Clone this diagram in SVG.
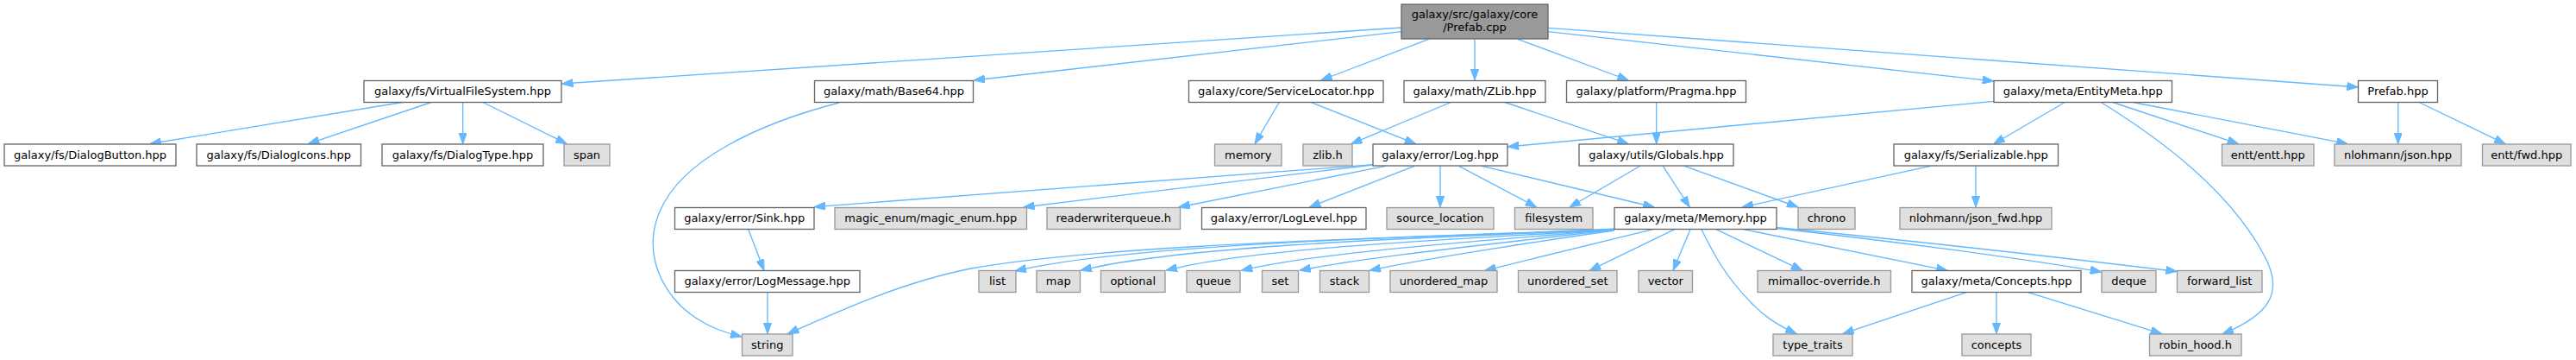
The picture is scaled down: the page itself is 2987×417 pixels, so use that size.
<svg xmlns="http://www.w3.org/2000/svg" width="2987" height="417" viewBox="0 0 2987 417">
<style>
.n rect{fill:#ffffff;stroke:#666666;stroke-width:1.33}
.g rect{fill:#e0e0e0;stroke:#999999;stroke-width:1.33}
.top rect{fill:#999999;stroke:#666666;stroke-width:1.33}
text{font-family:"DejaVu Sans","Liberation Sans",sans-serif;font-size:13px;fill:#000000;text-anchor:middle}
#edges path{fill:none;stroke:#63b8ff;stroke-width:1.33;marker-end:url(#ah)}
</style>
<defs>
<marker id="ah" viewBox="0 0 13 9.4" refX="13" refY="4.7" markerWidth="13" markerHeight="9.4" markerUnits="userSpaceOnUse" orient="auto">
<path d="M0,0 L13,4.7 L0,9.4 z" fill="#63b8ff" stroke="#63b8ff" stroke-width="1"/>
</marker>
</defs>
<rect x="0" y="0" width="2987" height="417" fill="#ffffff"/>
<g id="edges">
<path d="M1625,32 L651.5,97"/>
<path d="M1625,36.7 L1129,93"/>
<path d="M1656.7,45.3 L1531.7,93"/>
<path d="M1710,45.3 L1710,93"/>
<path d="M1760,45.3 L1888.3,93"/>
<path d="M1795,36.7 L2311.7,94"/>
<path d="M1795,32.3 L2734.3,101"/>
<path d="M466.7,118.5 L174,166.5"/>
<path d="M500,118.5 L357.3,166.7"/>
<path d="M536.7,118.5 L536.7,166.7"/>
<path d="M560,118.5 L657.3,166.7"/>
<path d="M973,119 C880,143 790,185 765,245 C748,285 760,325 790,355 C815,378 840,385 860,390"/>
<path d="M1483.3,118.5 L1455,166.7"/>
<path d="M1520,118.5 L1641.7,166.7"/>
<path d="M1682.3,118.5 L1566.7,166.7"/>
<path d="M1745,118.5 L1888.3,166.7"/>
<path d="M1920.7,118.5 L1920.7,166.7"/>
<path d="M2312,117.3 L1748.3,170"/>
<path d="M2394.3,118.5 L2311.7,166.7"/>
<path d="M2450,118.5 L2595.7,166.7"/>
<path d="M2473.3,118.5 L2722.3,166.7"/>
<path d="M2437,119 C2520,170 2590,230 2625,295 C2650,340 2630,365 2577,387"/>
<path d="M2780.7,118.5 L2780.7,166.7"/>
<path d="M2805,118.5 L2905,166.7"/>
<path d="M1591.7,190.7 L944,239.7"/>
<path d="M1591.7,191 L1186.7,240"/>
<path d="M1606.7,192.3 L1366.7,240"/>
<path d="M1640,192.3 L1518.3,240"/>
<path d="M1670,192.3 L1670,240"/>
<path d="M1691.7,192.3 L1781.7,240"/>
<path d="M1718.3,192.3 L1918.3,240"/>
<path d="M1901.7,192.3 L1820,240"/>
<path d="M1928.3,192.3 L1959.3,240"/>
<path d="M1953.3,192.3 L2085,240"/>
<path d="M2238.3,192.3 L2020,240"/>
<path d="M2291,192.3 L2291,240"/>
<path d="M867.7,265.5 L886,313.3"/>
<path d="M890,338.7 L890,386.7"/>
<path d="M1872,265 C1700,274 1300,280 1126,311 C1050,326 980,357 913.3,386.7"/>
<path d="M1872,266 C1700,273 1320,280 1177,314"/>
<path d="M1872,266 C1700,274 1380,282 1253,313.3"/>
<path d="M1872,266 C1720,276 1460,285 1352,313.3"/>
<path d="M1872,266 C1740,278 1540,290 1439.3,313.3"/>
<path d="M1872,266 C1760,280 1600,295 1506.7,313.3"/>
<path d="M1872,267 C1800,277 1650,300 1588,313.3"/>
<path d="M1916.7,265.7 L1721.7,313.3"/>
<path d="M1941.7,265.7 L1843.3,313.3"/>
<path d="M1960,265.7 L1940,313.3"/>
<path d="M1973,266 C1985,290 2000,320 2030,350 C2045,366 2060,376 2083.3,386.7"/>
<path d="M1990,265.7 L2090,313.3"/>
<path d="M2021.7,265.7 L2258.3,313.3"/>
<path d="M2060,264.5 C2200,280 2350,300 2436.7,315"/>
<path d="M2060,263.5 C2250,282 2420,302 2524.3,314.5"/>
<path d="M2280,338.7 L2136.7,386.7"/>
<path d="M2315,338.7 L2315,386.7"/>
<path d="M2351.7,338.7 L2506.7,386.7"/>
</g>
<g id="node_prefab_cpp" class="top"><rect x="1625" y="5" width="170" height="40"/><text x="1710" y="21">galaxy/src/galaxy/core</text><text x="1710" y="36">/Prefab.cpp</text></g>
<g id="node_vfs" class="n"><rect x="422" y="93.5" width="229" height="25"/><text x="536.5" y="110">galaxy/fs/VirtualFileSystem.hpp</text></g>
<g id="node_base64" class="n"><rect x="944.5" y="93.5" width="184" height="25"/><text x="1036.5" y="110">galaxy/math/Base64.hpp</text></g>
<g id="node_servloc" class="n"><rect x="1378.5" y="93.5" width="225.5" height="25"/><text x="1491.25" y="110">galaxy/core/ServiceLocator.hpp</text></g>
<g id="node_zlibhpp" class="n"><rect x="1628" y="93.5" width="164" height="25"/><text x="1710" y="110">galaxy/math/ZLib.hpp</text></g>
<g id="node_pragma" class="n"><rect x="1816.5" y="93.5" width="208" height="25"/><text x="1920.5" y="110">galaxy/platform/Pragma.hpp</text></g>
<g id="node_entitymeta" class="n"><rect x="2312" y="93.5" width="206.5" height="25"/><text x="2415.25" y="110">galaxy/meta/EntityMeta.hpp</text></g>
<g id="node_prefab_hpp" class="n"><rect x="2734.5" y="93.5" width="92" height="25"/><text x="2780.5" y="110">Prefab.hpp</text></g>
<g id="node_dialogbutton" class="n"><rect x="5" y="167" width="199" height="25"/><text x="104.5" y="183.5">galaxy/fs/DialogButton.hpp</text></g>
<g id="node_dialogicons" class="n"><rect x="228" y="167" width="190.5" height="25"/><text x="323.25" y="183.5">galaxy/fs/DialogIcons.hpp</text></g>
<g id="node_dialogtype" class="n"><rect x="443" y="167" width="187" height="25"/><text x="536.5" y="183.5">galaxy/fs/DialogType.hpp</text></g>
<g id="node_span" class="g"><rect x="654" y="167" width="53" height="25"/><text x="680.5" y="183.5">span</text></g>
<g id="node_memory" class="g"><rect x="1408.5" y="167" width="77.5" height="25"/><text x="1447.25" y="183.5">memory</text></g>
<g id="node_zlibh" class="g"><rect x="1511" y="167" width="57" height="25"/><text x="1539.5" y="183.5">zlib.h</text></g>
<g id="node_log" class="n"><rect x="1592" y="167" width="156" height="25"/><text x="1670" y="183.5">galaxy/error/Log.hpp</text></g>
<g id="node_globals" class="n"><rect x="1831" y="167" width="179" height="25"/><text x="1920.5" y="183.5">galaxy/utils/Globals.hpp</text></g>
<g id="node_serializable" class="n"><rect x="2196" y="167" width="190.5" height="25"/><text x="2291.25" y="183.5">galaxy/fs/Serializable.hpp</text></g>
<g id="node_entt" class="g"><rect x="2576.5" y="167" width="106.5" height="25"/><text x="2629.75" y="183.5">entt/entt.hpp</text></g>
<g id="node_json" class="g"><rect x="2707" y="167" width="147" height="25"/><text x="2780.5" y="183.5">nlohmann/json.hpp</text></g>
<g id="node_enttfwd" class="g"><rect x="2878.5" y="167" width="102.5" height="25"/><text x="2929.75" y="183.5">entt/fwd.hpp</text></g>
<g id="node_sink" class="n"><rect x="782.5" y="240.5" width="161.5" height="25"/><text x="863.25" y="257">galaxy/error/Sink.hpp</text></g>
<g id="node_magicenum" class="g"><rect x="968" y="240.5" width="222.5" height="25"/><text x="1079.25" y="257">magic_enum/magic_enum.hpp</text></g>
<g id="node_rwq" class="g"><rect x="1214" y="240.5" width="154.5" height="25"/><text x="1291.25" y="257">readerwriterqueue.h</text></g>
<g id="node_loglevel" class="n"><rect x="1393.5" y="240.5" width="190.5" height="25"/><text x="1488.75" y="257">galaxy/error/LogLevel.hpp</text></g>
<g id="node_srcloc" class="g"><rect x="1608" y="240.5" width="124" height="25"/><text x="1670" y="257">source_location</text></g>
<g id="node_filesystem" class="g"><rect x="1756.5" y="240.5" width="90.5" height="25"/><text x="1801.75" y="257">filesystem</text></g>
<g id="node_memoryhpp" class="n"><rect x="1872" y="240.5" width="188" height="25"/><text x="1966" y="257">galaxy/meta/Memory.hpp</text></g>
<g id="node_chrono" class="g"><rect x="2085" y="240.5" width="66" height="25"/><text x="2118" y="257">chrono</text></g>
<g id="node_jsonfwd" class="g"><rect x="2203" y="240.5" width="176" height="25"/><text x="2291" y="257">nlohmann/json_fwd.hpp</text></g>
<g id="node_logmessage" class="n"><rect x="782.5" y="313.5" width="214.5" height="25"/><text x="889.75" y="330">galaxy/error/LogMessage.hpp</text></g>
<g id="node_list" class="g"><rect x="1135" y="313.5" width="43" height="25"/><text x="1156.5" y="330">list</text></g>
<g id="node_map" class="g"><rect x="1202" y="313.5" width="50.5" height="25"/><text x="1227.25" y="330">map</text></g>
<g id="node_optional" class="g"><rect x="1276.5" y="313.5" width="74.5" height="25"/><text x="1313.75" y="330">optional</text></g>
<g id="node_queue" class="g"><rect x="1376" y="313.5" width="62" height="25"/><text x="1407" y="330">queue</text></g>
<g id="node_set" class="g"><rect x="1463.5" y="313.5" width="42" height="25"/><text x="1484.5" y="330">set</text></g>
<g id="node_stack" class="g"><rect x="1530.5" y="313.5" width="57" height="25"/><text x="1559" y="330">stack</text></g>
<g id="node_umap" class="g"><rect x="1612" y="313.5" width="124" height="25"/><text x="1674" y="330">unordered_map</text></g>
<g id="node_uset" class="g"><rect x="1760.5" y="313.5" width="114.5" height="25"/><text x="1817.75" y="330">unordered_set</text></g>
<g id="node_vector" class="g"><rect x="1900" y="313.5" width="62.5" height="25"/><text x="1931.25" y="330">vector</text></g>
<g id="node_mimalloc" class="g"><rect x="2038" y="313.5" width="154.5" height="25"/><text x="2115.25" y="330">mimalloc-override.h</text></g>
<g id="node_conceptshpp" class="n"><rect x="2217" y="313.5" width="196" height="25"/><text x="2315" y="330">galaxy/meta/Concepts.hpp</text></g>
<g id="node_deque" class="g"><rect x="2437" y="313.5" width="63" height="25"/><text x="2468.5" y="330">deque</text></g>
<g id="node_fwdlist" class="g"><rect x="2524.5" y="313.5" width="98.5" height="25"/><text x="2573.75" y="330">forward_list</text></g>
<g id="node_string" class="g"><rect x="860.5" y="387" width="58.5" height="25"/><text x="889.75" y="403.5">string</text></g>
<g id="node_typetraits" class="g"><rect x="2056" y="387" width="92" height="25"/><text x="2102" y="403.5">type_traits</text></g>
<g id="node_concepts" class="g"><rect x="2275" y="387" width="80" height="25"/><text x="2315" y="403.5">concepts</text></g>
<g id="node_robinhood" class="g"><rect x="2492.5" y="387" width="106.5" height="25"/><text x="2545.75" y="403.5">robin_hood.h</text></g>
</svg>
